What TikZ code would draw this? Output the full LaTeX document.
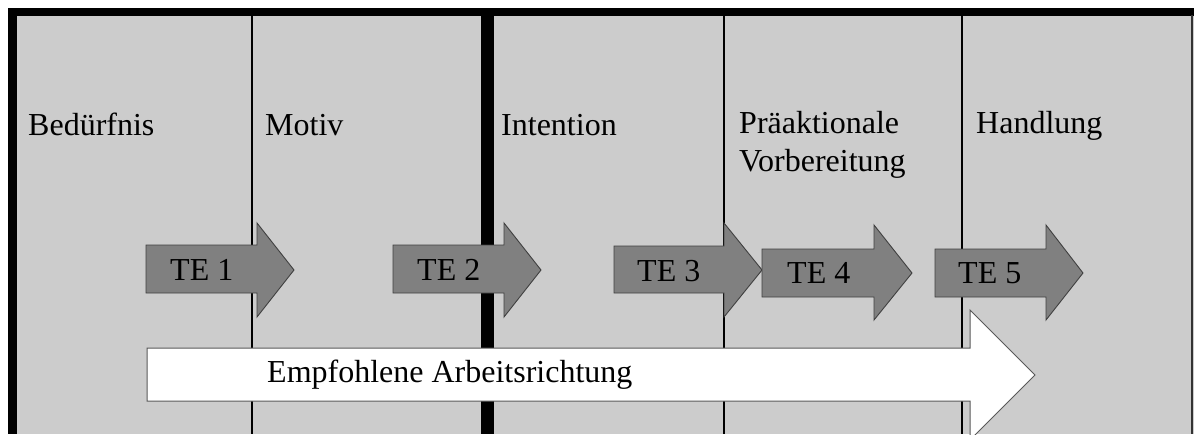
\documentclass[tikz,border=0pt]{standalone}
\usepackage{fontspec}
\setmainfont{Liberation Serif}
\begin{document}
\begin{tikzpicture}[x=1pt,y=-1pt,
  lbl/.style={anchor=base west,inner sep=0pt,font=\fontsize{32}{38}\selectfont,text=black},
  tearrow/.style={fill=arrowgray,draw=black!75,line width=0.9pt,line join=miter},
  bigarrow/.style={fill=white,draw=black!65,line width=1pt},
  thin/.style={draw=black,line width=1.5pt}]
\definecolor{bggray}{HTML}{CCCCCC}
\definecolor{arrowgray}{HTML}{808080}
\useasboundingbox (0,0) rectangle (1194,434);
% background and frame
\fill[bggray] (17,15) rectangle (1194,434);
\fill[black] (8,8) rectangle (1194,15.5);
\fill[black] (8,8) rectangle (17,434);
\fill[black!80] (1190.5,15) rectangle (1192.5,434);
\fill[black] (481,15) rectangle (494,434);
\coordinate (l1t) at (252,15); \coordinate (l1b) at (252,434);
\coordinate (l2t) at (724,15); \coordinate (l2b) at (724,434);
\coordinate (l3t) at (962,15); \coordinate (l3b) at (962,434);
\draw[thin] (l1t) -- (l1b);
\draw[thin] (l2t) -- (l2b);
\draw[thin] (l3t) -- (l3b);
% column labels
\node[lbl] (bed) at (28,135) {Bedürfnis};
\node[lbl] (mot) at (265,135) {Motiv};
\node[lbl] (int) at (501,135) {Intention};
\node[lbl] (pra) at (739,133) {Präaktionale};
\node[lbl] (vor) at (739,171) {Vorbereitung};
\node[lbl] (han) at (976,133) {Handlung};
% TE arrows
\draw[tearrow] (146,245) -- (257,245) -- (257,223) -- (294,270) -- (257,317) -- (257,293) -- (146,293) -- cycle;
\draw[tearrow] (393,245) -- (504,245) -- (504,223) -- (541,270) -- (504,317) -- (504,293) -- (393,293) -- cycle;
\draw[tearrow] (614,246) -- (724,246) -- (724,223) -- (762,270) -- (724,317) -- (724,293) -- (614,293) -- cycle;
\draw[tearrow] (762,249) -- (874,249) -- (874,225) -- (912,273) -- (874,320) -- (874,297) -- (762,297) -- cycle;
\draw[tearrow] (935,249) -- (1046,249) -- (1046,225) -- (1083,273) -- (1046,320) -- (1046,297) -- (935,297) -- cycle;
\node[lbl] (te1) at (170,280) {TE 1};
\node[lbl] (te2) at (417,280) {TE 2};
\node[lbl] (te3) at (637,281) {TE 3};
\node[lbl] (te4) at (787,283) {TE 4};
\node[lbl] (te5) at (958,283) {TE 5};
% big arrow
\draw[bigarrow] (147,348) -- (970,348) -- (970,310) -- (1035,375) -- (970,440) -- (970,401) -- (147,401) -- cycle;
\node[lbl] (emp) at (267,382) {Empfohlene Arbeitsrichtung};
\end{tikzpicture}
\end{document}
